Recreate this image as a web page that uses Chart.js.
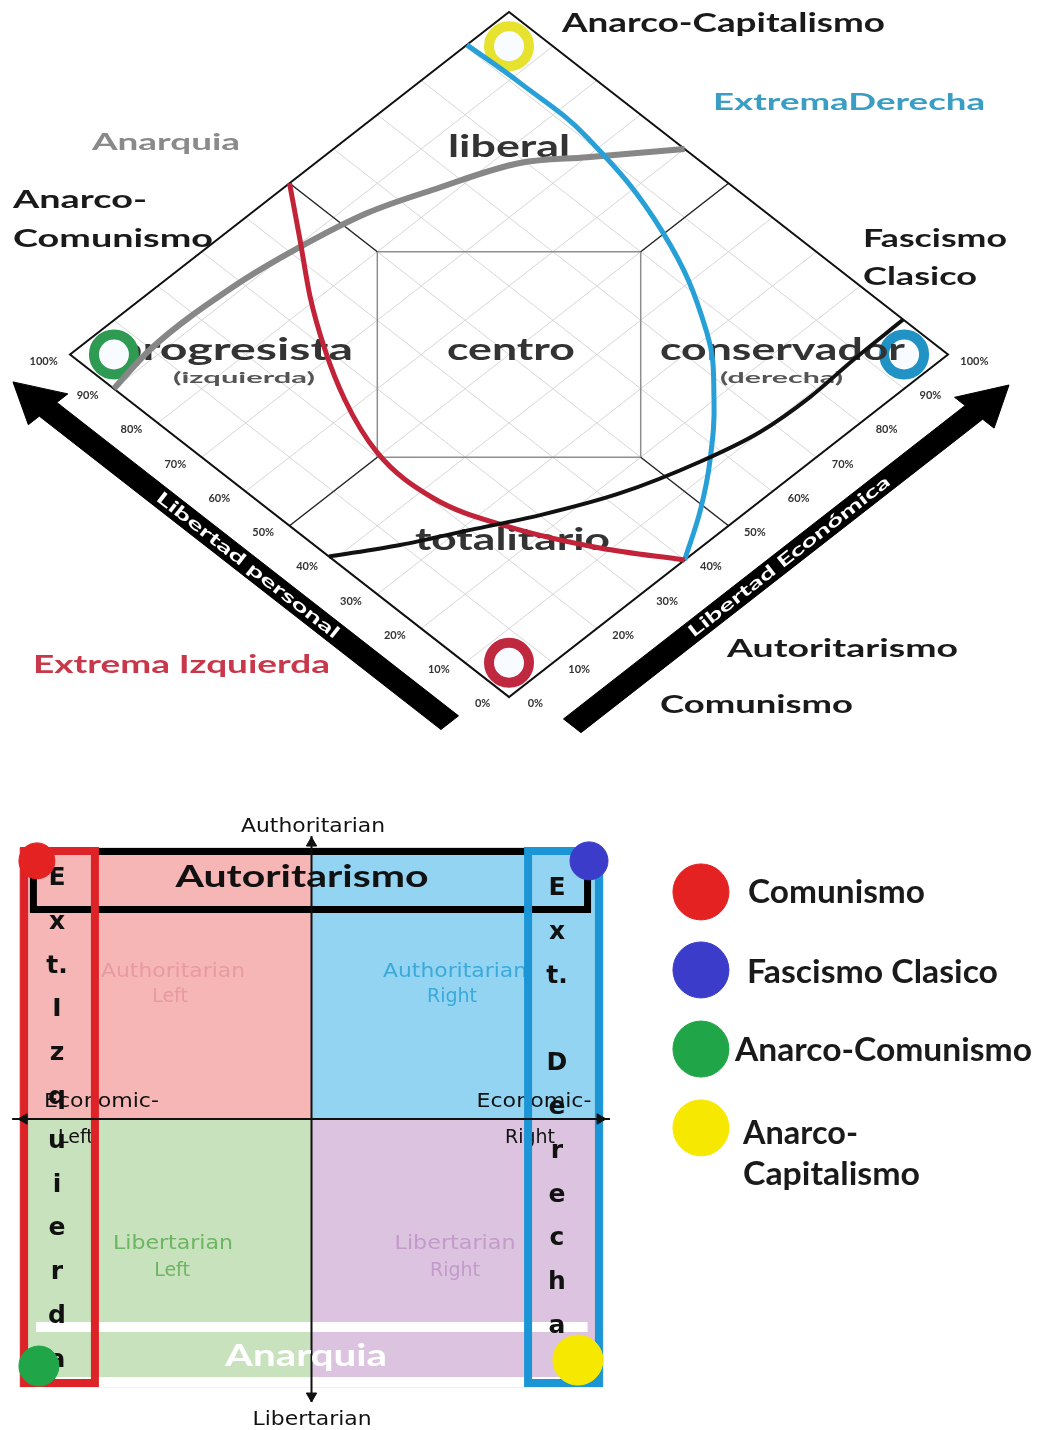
<!DOCTYPE html>
<html lang="es">
<head>
<meta charset="utf-8">
<title>Diagrama de Nolan y brújula política</title>
<script src="https://cdn.jsdelivr.net/npm/chart.js@4.4.1/dist/chart.umd.min.js"></script>
<style>
  html, body { margin: 0; padding: 0; background: #ffffff; }
  canvas { display: block; }
</style>
</head>
<body>
<canvas id="nolanChart" width="1043" height="745"></canvas>
<canvas id="compassChart" width="1043" height="685"></canvas>
<script>
// ============================================================
// Diagrama de Nolan (arriba) + brújula política (abajo)
// ============================================================

// ---- Nolan: puntos en [% libertad económica, % libertad personal] ----
const PCT_TICKS = [0, 10, 20, 30, 40, 50, 60, 70, 80, 90, 100];
const GRID_PCT = [10, 20, 30, 40, 50, 60, 70, 80, 90];
const DIAMOND = [[0, 0], [100, 0], [100, 100], [0, 100], [0, 0]];
const CENTRE_BOX = [[50, 80], [80, 50], [50, 20], [20, 50], [50, 80]];
const SPOKES = [[[50, 80], [50, 100]], [[80, 50], [100, 50]], [[50, 20], [50, 0]], [[20, 50], [0, 50]]];

const CURVE_ANARQUIA = [[0, 90], [9.8, 91.6], [28.4, 91.3], [41.9, 89.5], [54.5, 86.8], [65.4, 82.7], [79.2, 76.7], [87.7, 69.9], [100, 60]];
const CURVE_IZQUIERDA = [[50, 100], [42.9, 90.5], [36, 81.4], [29.7, 71.6], [24.7, 62.1], [20.7, 50.8], [20.4, 37.7], [24.9, 24.7], [32.1, 11.4], [40, 0]];
const CURVE_DERECHA = [[90.4, 100], [90.9, 88.4], [90.6, 72.9], [85.3, 50.2], [75.7, 30.6], [66.7, 20], [57.5, 11.7], [49.1, 5.5], [40, 0]];
const CURVE_TOTALITARIO = [[0, 41], [9.8, 34.6], [20, 28.8], [30.1, 23], [42.4, 17.1], [56.1, 12.6], [67.3, 10.1], [78, 9.5], [88.4, 10], [100, 10.2]];

const RING_POINTS = [[95, 95], [5, 95], [95, 5], [5, 5]];
const RING_COLORS = ['#e6e22e', '#2f9a52', '#2192c4', '#c0283f'];

const ARROW_PERSONAL = [[-12.5, 3], [-8.5, 3], [-8.5, 94.5], [-6, 94.5], [-10.5, 102.5], [-15, 94.5], [-12.5, 94.5], [-12.5, 3]];
const ARROW_ECONOMIC = [[3, -13.4], [3, -9.4], [94.5, -9.4], [94.5, -7], [102.5, -11.4], [94.5, -16], [94.5, -13.4], [3, -13.4]];

// ---- Brújula política: x = economía (-10..10), y = autoridad (-10..10) ----
const QUAD_BOUNDS = [[-10, 0, 0, 10.04], [0, 0, 10, 10.04], [-10, -9.92, 0, 0], [0, -9.92, 10, 0]];
const QUAD_COLORS = ['#f6b6b6', '#92d4f2', '#c7e2bc', '#dcc3df'];
const ANARQUIA_BANDS = [[[-9.45, -7.70], [9.47, -7.70]], [[-9.45, -9.74], [9.47, -9.74]]];
const FRAME_AUTORITARISMO = [-9.54, 7.76, 9.47, 9.91];
const FRAME_EXT_IZQ = [-9.86, -9.78, -7.43, 9.93];
const FRAME_EXT_DER = [7.43, -9.78, 9.86, 9.93];
const AXIS_V = [[0, 10.48], [0, -10.48]];
const AXIS_H = [[-10.27, 0], [10.24, 0]];
const AXIS_HEADS = [[0, 10.22], [0, -10.26], [-9.86, 0], [9.9, 0]];
const IDEOLOGY_POINTS = [[-9.42, 9.56], [9.52, 9.56], [-9.35, -9.15], [9.14, -8.93]];
const LEGEND_POINTS = [[13.36, 8.41], [13.36, 5.52], [13.36, 2.59], [13.36, -0.33]];
const IDEOLOGY_COLORS = ['#e42222', '#3b3cc9', '#20a548', '#f7e800'];
const EXT_IZQ_LETTERS = ['E', 'x', 't.', 'I', 'z', 'q', 'u', 'i', 'e', 'r', 'd', 'a'];
const EXT_DER_LETTERS = ['E', 'x', 't.', '', 'D', 'e', 'r', 'e', 'c', 'h', 'a'];

// ---- textos (posición en píxeles del lienzo) ----
const LATO = 'Lato, sans-serif';
const DEJAVU = "'DejaVu Sans', sans-serif";

const NOLAN_UNDER_TEXT = [
  { text: 'progresista', x: 115, y: 360, w: 238, size: 31, color: '#333' }
];

const NOLAN_TEXT = [
  { text: 'Anarco-Capitalismo', x: 562, y: 32, w: 323, size: 26 },
  { text: 'ExtremaDerecha', x: 713, y: 110, w: 272, size: 22, color: '#3a9ec4' },
  { text: 'Anarquia', x: 92, y: 150, w: 148, size: 22, color: '#8a8a8a' },
  { text: 'liberal', x: 448, y: 157, w: 122, size: 30, color: '#333' },
  { text: 'Anarco-', x: 13, y: 208, w: 134, size: 24 },
  { text: 'Comunismo', x: 13, y: 247, w: 200, size: 24 },
  { text: 'Fascismo', x: 863, y: 247, w: 144, size: 24 },
  { text: 'Clasico', x: 863, y: 285, w: 114, size: 24 },
  { text: '(izquierda)', x: 173, y: 383, w: 142, size: 16, color: '#555' },
  { text: 'centro', x: 447, y: 360, w: 128, size: 31, color: '#333' },
  { text: 'conservador', x: 660, y: 360, w: 245, size: 31, color: '#333' },
  { text: '(derecha)', x: 720, y: 383, w: 123, size: 16, color: '#555' },
  { text: 'totalitario', x: 415, y: 550, w: 195, size: 31, color: '#333' },
  { text: 'Extrema Izquierda', x: 33, y: 673, w: 297, size: 24, color: '#c8374a' },
  { text: 'Autoritarismo', x: 727, y: 657, w: 231, size: 25 },
  { text: 'Comunismo', x: 660, y: 713, w: 193, size: 25 }
];

const COMPASS_UNDER_TEXT = [
  { text: 'Authoritarian', x: 313, y: 87, w: 144, size: 19, family: DEJAVU, weight: 'normal', align: 'center', color: '#111' },
  { text: 'Libertarian', x: 312, y: 680, w: 119, size: 19, family: DEJAVU, weight: 'normal', align: 'center', color: '#111' },
  { text: 'Authoritarian', x: 173, y: 232, w: 144, size: 19, family: DEJAVU, weight: 'normal', align: 'center', color: '#e79aa3' },
  { text: 'Left', x: 170, y: 257, size: 19, family: DEJAVU, weight: 'normal', align: 'center', color: '#e79aa3' },
  { text: 'Authoritarian', x: 455, y: 232, w: 144, size: 19, family: DEJAVU, weight: 'normal', align: 'center', color: '#3ba9d9' },
  { text: 'Right', x: 452, y: 257, size: 19, family: DEJAVU, weight: 'normal', align: 'center', color: '#3ba9d9' },
  { text: 'Libertarian', x: 173, y: 504, w: 120, size: 19, family: DEJAVU, weight: 'normal', align: 'center', color: '#6cb562' },
  { text: 'Left', x: 172, y: 531, size: 19, family: DEJAVU, weight: 'normal', align: 'center', color: '#6cb562' },
  { text: 'Libertarian', x: 455, y: 504, w: 121, size: 19, family: DEJAVU, weight: 'normal', align: 'center', color: '#c39bca' },
  { text: 'Right', x: 455, y: 531, size: 19, family: DEJAVU, weight: 'normal', align: 'center', color: '#c39bca' },
  { text: 'Economic-', x: 44, y: 362, w: 115, size: 19, family: DEJAVU, weight: 'normal', color: '#111' },
  { text: 'Left', x: 58, y: 398, size: 19, family: DEJAVU, weight: 'normal', color: '#111' },
  { text: 'Economic-', x: 534, y: 362, w: 115, size: 19, family: DEJAVU, weight: 'normal', align: 'center', color: '#111' },
  { text: 'Right', x: 530, y: 398, size: 19, family: DEJAVU, weight: 'normal', align: 'center', color: '#111' }
];

const COMPASS_OVER_TEXT = [
  { text: 'Autoritarismo', x: 302, y: 142, w: 253, size: 30, align: 'center', color: '#111' },
  { text: 'Anarquia', x: 306, y: 621, w: 162, size: 30, align: 'center', color: '#ffffff' }
];

const LEGEND_TEXT = [
  { text: 'Comunismo', x: 748, y: 158, w: 177, size: 32 },
  { text: 'Fascismo Clasico', x: 747, y: 238, w: 251, size: 32 },
  { text: 'Anarco-Comunismo', x: 735, y: 316, w: 297, size: 32 },
  { text: 'Anarco-', x: 743, y: 399, w: 115, size: 32 },
  { text: 'Capitalismo', x: 743, y: 440, w: 177, size: 32 }
];

// ---- utilidades ----
// rota 45°: u = económica - personal, v = económica + personal
function ep(pt) {
  return { x: pt[0] - pt[1], y: pt[0] + pt[1] };
}
function xy(pt) {
  return { x: pt[0], y: pt[1] };
}
function rectPath(b) {
  const [x0, y0, x1, y1] = b;
  return [[x0, y0], [x1, y0], [x1, y1], [x0, y1], [x0, y0]];
}

function drawText(ctx, t) {
  ctx.save();
  ctx.font = `${t.weight || 'bold'} ${t.size}px ${t.family || LATO}`;
  ctx.fillStyle = t.color || '#1a1a1a';
  ctx.textBaseline = t.base || 'alphabetic';
  const natural = ctx.measureText(t.text).width;
  const sx = t.w ? t.w / natural : 1;
  ctx.translate(t.x, t.y);
  if (t.rot) ctx.rotate(t.rot);
  ctx.scale(sx, 1);
  ctx.textAlign = t.align || 'left';
  ctx.fillText(t.text, 0, 0);
  ctx.restore();
}

function makeLayerPlugin(layers) {
  return {
    id: 'layers',
    afterDatasetDraw(chart, args) {
      const name = chart.data.datasets[args.index].textLayer;
      if (name && layers[name]) layers[name](chart, chart.ctx);
    }
  };
}

function toPixel(chart, q) {
  return { x: chart.scales.x.getPixelForValue(q.x), y: chart.scales.y.getPixelForValue(q.y) };
}

function segment(points, map, color, width, extra) {
  return Object.assign({
    data: points.map(map),
    borderColor: color,
    borderWidth: width,
    pointRadius: 0,
    fill: false,
    tension: 0
  }, extra || {});
}

function arrowLabel(chart, ctx, text, from, to, centre, width) {
  const a = toPixel(chart, ep(from));
  const b = toPixel(chart, ep(to));
  const c = toPixel(chart, ep(centre));
  drawText(ctx, {
    text, x: c.x, y: c.y, w: width, size: 17, color: '#ffffff',
    align: 'center', base: 'middle', rot: Math.atan2(b.y - a.y, b.x - a.x)
  });
}

const baseOptions = (xr, yr) => ({
  responsive: false,
  devicePixelRatio: 1,
  animation: false,
  events: [],
  layout: { padding: 0, autoPadding: false },
  plugins: { legend: { display: false }, tooltip: { enabled: false } },
  elements: { point: { radius: 0 }, line: { tension: 0 } },
  scales: {
    x: { type: 'linear', min: xr[0], max: xr[1], display: false },
    y: { type: 'linear', min: yr[0], max: yr[1], display: false }
  }
});

// ---- Diagrama de Nolan ----
const nolanSets = [];
GRID_PCT.forEach(k => {
  nolanSets.push(segment([[k, 0], [k, 100]], ep, '#d6d6d6', 1));
  nolanSets.push(segment([[0, k], [100, k]], ep, '#d6d6d6', 1));
});
nolanSets[nolanSets.length - 1].textLayer = 'under';
nolanSets.push({
  data: RING_POINTS.map(ep),
  showLine: false,
  pointRadius: 20,
  pointBorderWidth: 10,
  pointBorderColor: RING_COLORS,
  pointBackgroundColor: '#f8fbff',
  textLayer: 'labels'
});
nolanSets.push(segment(CENTRE_BOX, ep, '#8e8e8e', 1.5));
SPOKES.forEach(s => nolanSets.push(segment(s, ep, '#262626', 1.5)));
nolanSets.push(segment(DIAMOND, ep, '#111111', 2, { borderCapStyle: 'square' }));
nolanSets.push(segment(ARROW_PERSONAL, ep, '#000000', 1, { fill: 'shape', backgroundColor: '#000000', textLayer: 'personal' }));
nolanSets.push(segment(ARROW_ECONOMIC, ep, '#000000', 1, { fill: 'shape', backgroundColor: '#000000', textLayer: 'economic' }));
nolanSets.push(segment(CURVE_ANARQUIA, ep, '#878787', 6, { cubicInterpolationMode: 'monotone' }));
nolanSets.push(segment(CURVE_DERECHA, ep, '#27a0d8', 5, { tension: 0.4 }));
nolanSets.push(segment(CURVE_IZQUIERDA, ep, '#c22338', 5, { cubicInterpolationMode: 'monotone' }));
nolanSets.push(segment(CURVE_TOTALITARIO, ep, '#111111', 4, { cubicInterpolationMode: 'monotone' }));
nolanSets.forEach((d, i) => { d.order = nolanSets.length - i; });

const nolanLayers = {
  under(chart, ctx) {
    NOLAN_UNDER_TEXT.forEach(t => drawText(ctx, t));
  },
  labels(chart, ctx) {
    NOLAN_TEXT.forEach(t => drawText(ctx, t));
    PCT_TICKS.forEach(t => {
      const l = toPixel(chart, ep([-4, t + 2]));
      const r = toPixel(chart, ep([t + 2, -4]));
      drawText(ctx, { text: t + '%', x: l.x, y: l.y, size: 11, color: '#333', align: 'center', base: 'middle' });
      drawText(ctx, { text: t + '%', x: r.x, y: r.y, size: 11, color: '#333', align: 'center', base: 'middle' });
    });
  },
  personal(chart, ctx) {
    arrowLabel(chart, ctx, 'Libertad personal', [-10.5, 100], [-10.5, 0], [-10.5, 49], 227);
  },
  economic(chart, ctx) {
    arrowLabel(chart, ctx, 'Libertad Económica', [0, -11.4], [100, -11.4], [52.4, -11.4], 251);
  }
};

new Chart(document.getElementById('nolanChart'), {
  type: 'line',
  data: { datasets: nolanSets },
  options: baseOptions([-115.95, 121.64], [-14.01, 203.5]),
  plugins: [makeLayerPlugin(nolanLayers)]
});

// ---- Brújula política ----
const compassSets = [];
QUAD_BOUNDS.forEach((b, i) => {
  compassSets.push(segment(rectPath(b), xy, QUAD_COLORS[i], 1, { fill: 'shape', backgroundColor: QUAD_COLORS[i] }));
});
compassSets[compassSets.length - 1].textLayer = 'under';
ANARQUIA_BANDS.forEach(b => compassSets.push(segment(b, xy, '#ffffff', 10)));
compassSets.push(segment(rectPath(FRAME_AUTORITARISMO), xy, '#000000', 7, { borderCapStyle: 'square' }));
compassSets.push(segment(rectPath(FRAME_EXT_IZQ), xy, '#dd2327', 8, { borderCapStyle: 'square' }));
compassSets.push(segment(rectPath(FRAME_EXT_DER), xy, '#1b95d6', 8, { borderCapStyle: 'square' }));
compassSets.push(segment(AXIS_V, xy, '#111111', 2));
compassSets.push(segment(AXIS_H, xy, '#111111', 2));
compassSets.push({
  data: AXIS_HEADS.map(xy),
  showLine: false,
  pointStyle: 'triangle',
  pointRadius: 6,
  pointRotation: [0, 180, -90, 90],
  pointBackgroundColor: '#111111',
  pointBorderColor: '#111111',
  pointBorderWidth: 1,
  textLayer: 'over'
});
compassSets.push({
  data: IDEOLOGY_POINTS.map(xy),
  showLine: false,
  pointRadius: [18, 19, 20, 25],
  pointBackgroundColor: IDEOLOGY_COLORS,
  pointBorderColor: IDEOLOGY_COLORS,
  pointBorderWidth: 1
});
compassSets.push({
  data: LEGEND_POINTS.map(xy),
  showLine: false,
  pointRadius: 28,
  pointBackgroundColor: IDEOLOGY_COLORS,
  pointBorderColor: IDEOLOGY_COLORS,
  pointBorderWidth: 1,
  textLayer: 'legend'
});
compassSets.forEach((d, i) => { d.order = compassSets.length - i; });

const compassLayers = {
  under(chart, ctx) {
    COMPASS_UNDER_TEXT.forEach(t => drawText(ctx, t));
  },
  over(chart, ctx) {
    COMPASS_OVER_TEXT.forEach(t => drawText(ctx, t));
    EXT_IZQ_LETTERS.forEach((s, i) => {
      drawText(ctx, { text: s, x: 57, y: 140 + i * 43.8, size: 25, family: DEJAVU, align: 'center', color: '#111' });
    });
    EXT_DER_LETTERS.forEach((s, i) => {
      if (s) drawText(ctx, { text: s, x: 557, y: 150 + i * 43.8, size: 25, family: DEJAVU, align: 'center', color: '#111' });
    });
  },
  legend(chart, ctx) {
    LEGEND_TEXT.forEach(t => drawText(ctx, t));
  }
};

new Chart(document.getElementById('compassChart'), {
  type: 'line',
  data: { datasets: compassSets },
  options: baseOptions([-10.686, 25.094], [-11.519, 13.852]),
  plugins: [makeLayerPlugin(compassLayers)]
});
</script>
</body>
</html>
